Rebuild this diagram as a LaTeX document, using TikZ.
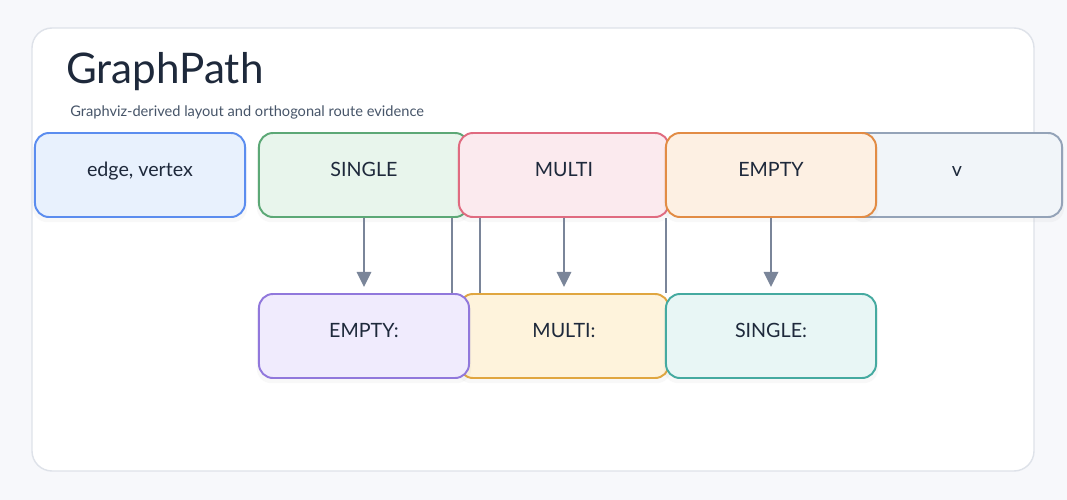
\documentclass[tikz,border=0pt]{standalone}
\usepackage{fontspec}
\setmainfont{Lato}
\usepackage{xcolor}
\usepackage{tikz}
\usetikzlibrary{arrows.meta, positioning, shadows}
\definecolor{pagebg}{HTML}{F7F8FB}
\definecolor{cardline}{HTML}{DEE2E9}
\definecolor{inkdark}{HTML}{1E293B}
\definecolor{inksoft}{HTML}{475569}
\definecolor{wire}{HTML}{7A8599}
\tikzstyle{kindbox} = [rectangle, rounded corners=0.35cm, minimum width=5.25cm, minimum height=2.1cm, text centered, line width=1.4pt, text=inkdark, font=\fontsize{14}{16}\selectfont, text height=0.35cm, text depth=0.3cm, drop shadow={opacity=0.05, shadow xshift=0pt, shadow yshift=-3pt, shadow scale=1.02}]
\tikzstyle{flow} = [-{Triangle[length=0.38cm, width=0.36cm]}, line width=1.5pt, draw=wire, shorten >=0.15cm]
\tikzstyle{link} = [line width=1.5pt, draw=wire]

\begin{document}
\begin{tikzpicture}[x=0.025cm, y=-0.025cm]
    % page and card
    \fill[pagebg] (0,0) rectangle (1067,500);
    \useasboundingbox (0,0) rectangle (1067,500);
    \draw[cardline, fill=white, line width=1pt, rounded corners=0.5cm] (32,28) rectangle (1034,471);

    % heading
    \node[anchor=base west, inner sep=0pt, text=inkdark, font=\fontsize{30}{34}\selectfont] (title) at (66,83) {GraphPath};
    \node[anchor=base west, inner sep=0pt, text=inksoft, font=\fontsize{10.4}{12}\selectfont] (subtitle) at (70,116) {Graphviz-derived layout and orthogonal route evidence};

    % top row
    \node[kindbox, draw={rgb,255:red,91;green,141;blue,239}, fill={rgb,255:red,232;green,241;blue,253}] (edgevtx) at (140,175) {edge, vertex};
    \node[kindbox, draw={rgb,255:red,92;green,168;blue,118}, fill={rgb,255:red,232;green,245;blue,236}] (single) at (364,175) {SINGLE};
    \node[kindbox, draw={rgb,255:red,224;green,107;blue,128}, fill={rgb,255:red,251;green,234;blue,238}] (multi) at (564,175) {MULTI};
    \node[kindbox, draw={rgb,255:red,148;green,163;blue,184}, fill={rgb,255:red,241;green,245;blue,249}] (vnode) at (957,175) {v};
    \node[kindbox, draw={rgb,255:red,226;green,140;blue,69}, fill={rgb,255:red,253;green,240;blue,227}] (empty) at (771,175) {EMPTY};

    % bottom row
    \node[kindbox, draw={rgb,255:red,224;green,166;blue,64}, fill={rgb,255:red,254;green,243;blue,220}] (multib) at (564,336) {MULTI:};
    \node[kindbox, draw={rgb,255:red,145;green,120;blue,220}, fill={rgb,255:red,240;green,235;blue,253}] (emptyb) at (364,336) {EMPTY:};
    \node[kindbox, draw={rgb,255:red,69;green,170;blue,160}, fill={rgb,255:red,232;green,246;blue,245}] (singleb) at (771,336) {SINGLE:};

    % arrows
    \draw[flow] (single.south) -- (emptyb.north);
    \draw[flow] (multi.south) -- (multib.north);
    \draw[flow] (empty.south) -- (singleb.north);

    % plain routes
    \draw[link] ([xshift=-0.45cm]single.south east) -- ([xshift=-0.45cm]emptyb.north east);
    \draw[link] ([xshift=0.55cm]multi.south west) -- ([xshift=0.55cm]multib.north west);
    \draw[link] ([xshift=-0.1cm]multi.south east) -- ([xshift=-0.1cm]multib.north east);
\end{tikzpicture}
\end{document}
